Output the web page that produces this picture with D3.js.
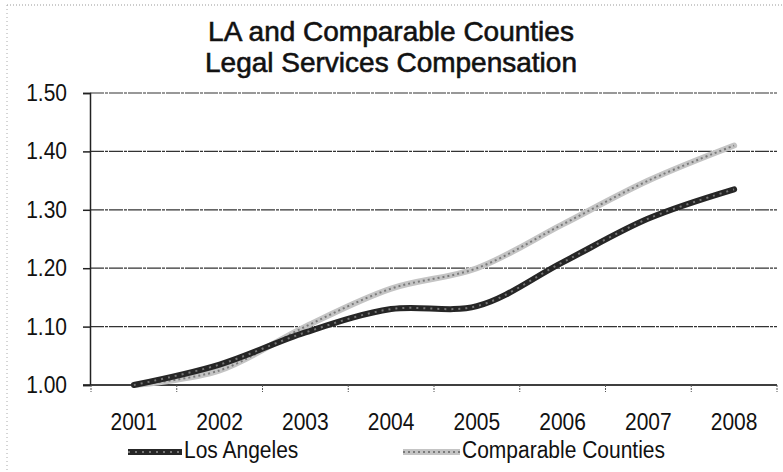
<!DOCTYPE html>
<html>
<head>
<meta charset="utf-8">
<script src="https://cdn.jsdelivr.net/npm/d3@7"></script>
<style>
  body { margin: 0; background: #fff; }
  text { font-family: "Liberation Sans", Arial, sans-serif; fill: #111; }
</style>
</head>
<body>
<div id="vis"></div>
<script>
const years = ["2001", "2002", "2003", "2004", "2005", "2006", "2007", "2008"];
const laValues = [1.00, 1.035, 1.09, 1.13, 1.135, 1.21, 1.285, 1.335];
const ccValues = [1.00, 1.025, 1.10, 1.165, 1.20, 1.275, 1.35, 1.41];
const yTicks = [1.00, 1.10, 1.20, 1.30, 1.40, 1.50];
const titleLines = ["LA and Comparable Counties", "Legal Services Compensation"];
const seriesNames = ["Los Angeles", "Comparable Counties"];

const W = 783, H = 472;
const plot = { left: 91, right: 777, top: 93, bottom: 385 };
const stretch = 1.13; // scanned text looks taller than it is wide

const svg = d3.select("#vis")
    .append("svg")
    .attr("width", W)
    .attr("height", H);

svg.append("rect")
    .attr("width", W)
    .attr("height", H)
    .attr("fill", "#fff");

// faint dotted frame of the chart area
svg.append("line")
    .attr("x1", 7).attr("x2", W).attr("y1", 5).attr("y2", 5)
    .attr("stroke", "#999").attr("stroke-dasharray", "1,2");
svg.append("line")
    .attr("x1", 7).attr("x2", 7).attr("y1", 5).attr("y2", H)
    .attr("stroke", "#aaa").attr("stroke-dasharray", "1,3");

const x = d3.scaleBand()
    .domain(years)
    .range([plot.left, plot.right]);

const y = d3.scaleLinear()
    .domain([1.0, 1.5])
    .range([plot.bottom, plot.top]);

// gridlines
svg.append("g")
    .selectAll("line")
    .data(yTicks)
    .enter()
    .append("line")
    .attr("x1", plot.left - 1)
    .attr("x2", plot.right)
    .attr("y1", d => y(d))
    .attr("y2", d => y(d))
    .attr("stroke", "#333")
    .attr("stroke-width", 1.2)
    .attr("stroke-dasharray", d => d === 1.0 ? null : "14,1,3,1");

// y axis
const yAxis = svg.append("g")
    .attr("transform", `translate(${plot.left - 1},0)`)
    .call(d3.axisLeft(y)
        .tickValues(yTicks)
        .tickSize(7)
        .tickPadding(16)
        .tickFormat(d3.format(".2f")));
yAxis.select(".domain").attr("stroke", "#222").attr("stroke-width", 1.5);
yAxis.selectAll(".tick line").attr("stroke", "#222").attr("stroke-width", 1.5);
yAxis.selectAll("text")
    .style("font-size", "21px")
    .attr("transform", `scale(1,${stretch})`)
    .attr("fill", "#111");

// x axis (labels centred in bands, ticks between categories)
const xAxis = svg.append("g")
    .attr("transform", `translate(0,${plot.bottom})`)
    .call(d3.axisBottom(x).tickSize(0).tickPadding(25));
xAxis.select(".domain").remove();
xAxis.selectAll("text")
    .style("font-size", "21px")
    .attr("transform", `scale(1,${stretch})`)
    .attr("fill", "#111");

svg.append("line")
    .attr("x1", plot.left - 8).attr("x2", plot.right)
    .attr("y1", plot.bottom).attr("y2", plot.bottom)
    .attr("stroke", "#222").attr("stroke-width", 1.5);

svg.append("g")
    .selectAll("line")
    .data([...years.map(d => x(d)), plot.right])
    .enter()
    .append("line")
    .attr("x1", d => d).attr("x2", d => d)
    .attr("y1", plot.bottom).attr("y2", plot.bottom + 7)
    .attr("stroke", "#555")
    .attr("stroke-dasharray", "2,1");

// series
const line = d3.line()
    .x((d, i) => x(years[i]) + x.bandwidth() / 2)
    .y(d => y(d))
    .curve(d3.curveCatmullRom.alpha(0.5));

function drawSeries(values, base, speck, speckDash) {
    svg.append("path")
        .datum(values)
        .attr("d", line)
        .attr("fill", "none")
        .attr("stroke", base)
        .attr("stroke-width", 6)
        .attr("stroke-linecap", "round");
    svg.append("path")
        .datum(values)
        .attr("d", line)
        .attr("fill", "none")
        .attr("stroke", speck)
        .attr("stroke-width", 2)
        .attr("stroke-dasharray", speckDash);
}

drawSeries(ccValues, "#c4c4c4", "#7a7a7a", "2,3");
drawSeries(laValues, "#262626", "#777", "2,5");

// title
titleLines.forEach((t, i) => {
    svg.append("text")
        .attr("x", 391)
        .attr("y", 41 + i * 31)
        .attr("text-anchor", "middle")
        .style("font-size", "28px")
        .attr("fill", "#151515")
        .attr("stroke", "#151515")
        .attr("stroke-width", 0.6)
        .text(t);
});

// legend
const legendItems = [
    { name: seriesNames[0], x0: 128, x1: 182, base: "#262626", speck: "#777", dash: "2,5" },
    { name: seriesNames[1], x0: 403, x1: 460, base: "#c4c4c4", speck: "#7a7a7a", dash: "2,3" }
];
legendItems.forEach(d => {
    svg.append("line")
        .attr("x1", d.x0).attr("x2", d.x1).attr("y1", 452).attr("y2", 452)
        .attr("stroke", d.base).attr("stroke-width", 6);
    svg.append("line")
        .attr("x1", d.x0).attr("x2", d.x1).attr("y1", 452).attr("y2", 452)
        .attr("stroke", d.speck).attr("stroke-width", 2).attr("stroke-dasharray", d.dash);
    svg.append("g")
        .attr("transform", `translate(${d.x1 + 2},458) scale(1,${stretch})`)
        .append("text")
        .style("font-size", "21px")
        .attr("fill", "#111")
        .text(d.name);
});
</script>
</body>
</html>
